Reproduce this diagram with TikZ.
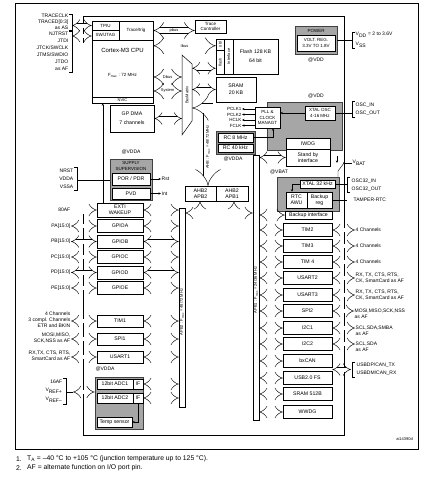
\documentclass[tikz,border=0pt]{standalone}
\usepackage{fontspec}
\setmainfont{Liberation Sans}
\usepackage{tikz}
\usetikzlibrary{arrows.meta, positioning, calc}

\begin{document}
\begin{tikzpicture}[
    x=1pt, y=-1pt,
    box/.style={rectangle, draw=black, fill=white, line width=0.5pt, inner sep=0pt, align=center, font=\fontsize{5.2}{6.2}\selectfont},
    lft/.style={box, minimum width=46pt, minimum height=13pt},
    rgt/.style={box, minimum width=49pt, minimum height=13pt},
    grybox/.style={rectangle, draw=black!75, fill=black!35, line width=0.8pt, inner sep=0pt},
    busbar/.style={rectangle, draw=black, fill=white, line width=0.5pt, inner sep=0pt, minimum width=6pt},
    dbl/.style={double, double distance=4pt, line width=0.45pt, {Implies}-{Implies}},
    dblr/.style={double, double distance=4pt, line width=0.45pt, -{Implies}},
    wide/.style={double, double distance=5.5pt, line width=0.45pt, {Implies}-{Implies}},
    ahb/.style={double, double distance=9pt, line width=0.45pt, {Implies}-{Implies}},
    tip/.style={-{Stealth[length=2.5pt, width=2.2pt]}, line width=0.5pt},
    pin/.style={font=\fontsize{5}{6}\selectfont, inner sep=0.5pt, align=left},
    lbl/.style={font=\fontsize{4}{4.6}\selectfont, inner sep=0pt, align=center},
]
\useasboundingbox (0,0) rectangle (434,480);

% Frame
\draw[line width=0.8pt] (15,3) rectangle (418,449);

% AF pin line round the chip
\draw[line width=0.5pt] (83,43) -- (83,16) -- (344,16) -- (344,435) -- (83,435) -- (83,214);

% Cortex-M3 core
\node[box, minimum width=27pt, minimum height=9pt, font=\fontsize{4.5}{5}\selectfont] (tpiu) at (105.5,25.5) {TPIU};
\node[box, minimum width=27pt, minimum height=10pt, font=\fontsize{4.5}{5}\selectfont] (swj) at (105.5,35) {SW/JTAG};
\node[box, minimum width=34pt, minimum height=19pt, font=\fontsize{4.5}{5}\selectfont] (trig) at (136,30.5) {Trace/trig};
\node[box, minimum width=61pt, minimum height=57pt] (cpu) at (122.5,68.5) {};
\node[box, minimum width=61pt, minimum height=6pt, font=\fontsize{4}{4.5}\selectfont] (nvic) at (122.5,100) {NVIC};
\node[font=\fontsize{6}{7}\selectfont, inner sep=0pt] (cpuname) at (122.5,50) {Cortex-M3 CPU};
\node[font=\fontsize{4.5}{5}\selectfont, inner sep=0pt] (fmax) at (122.5,75) {F\textsubscript{max} : 72 MHz};

% Trace and JTAG pins
\node[pin, anchor=east] (tclk) at (69,16) {TRACECLK};
\node[pin, anchor=east] (tdat) at (69,22) {TRACED[0:3]};
\node[pin, anchor=east] (tas) at (69,28) {as AS};
\draw (69,14) -- (72,14) -- (72,30) -- (69,30);
\coordinate (trbr) at (72,25.5);
\node[pin, anchor=east] (njtrst) at (69,34) {NJTRST};
\node[pin, anchor=east] (jtdi) at (69,41) {JTDI};
\node[pin, anchor=east] (jtck) at (69,48) {JTCK/SWCLK};
\node[pin, anchor=east] (jtms) at (69,55) {JTMS/SWDIO};
\node[pin, anchor=east] (jtdo) at (69,62) {JTDO};
\node[pin, anchor=east] (jtaf) at (69,69) {as AF};
\draw (69,31) -- (72,31) -- (72,72) -- (69,72);
\coordinate (jtbr) at (72,36);
\draw[dbl] (trbr) -- (trbr -| tpiu.west);
\draw[dbl] (jtbr) -- (jtbr -| swj.west);

% Memories and bus matrix
\node[box, minimum width=31pt, minimum height=13pt, font=\fontsize{4.5}{5}\selectfont] (tracectl) at (210.5,26.5) {Trace\\Controller};
\node[box, minimum width=17pt, minimum height=35pt] (flif) at (224.5,56.5) {};
\draw (flif.north) -- (flif.south);
\draw (flif.north west) ++(0,11) -- ++(8.5,0);
\node[lbl, rotate=90] (obl) at (220.25,44.5) {obl};
\node[lbl, rotate=90] (flshtxt) at (220.25,62) {flash};
\node[lbl, rotate=90] (iftxt) at (228.75,56.5) {Interface};
\node[box, minimum width=45pt, minimum height=35pt] (flash) at (255.5,56.5) {Flash 128 KB\\[3pt]64 bit};
\node[box, minimum width=40pt, minimum height=25pt] (sram) at (236,89.5) {SRAM\\[1pt]20 KB};
\node[box, minimum width=44pt, minimum height=27pt] (dma) at (132,118.5) {GP DMA\\[3pt]7 channels};
\coordinate (bm1) at (182,55);
\coordinate (bm2) at (192,64);
\coordinate (bm3) at (192,121);
\coordinate (bm4) at (182,135);
\draw[fill=white, line width=0.5pt] (bm1) -- (bm2) -- (bm3) -- (bm4) -- cycle;
\node[lbl, rotate=90] (bmtxt) at (187,95) {BusMatrix};

\draw[wide] (trig.east) -- (trig.east -| tracectl.west) node[midway, lbl] {pbus};
\draw[wide] ($(cpu.north east)+(0,6)$) coordinate (ib) -- (ib -| flif.west) node[midway, lbl] {Ibus};
\draw[wide] ($(cpu.east)+(0,8.5)$) coordinate (db) -- (db -| bm1) node[midway, lbl] {Dbus};
\draw[wide] ($(cpu.east)+(0,22.5)$) coordinate (sb) -- (sb -| bm1) node[midway, lbl] {System};
\draw[dbl] (dma.east) -- (dma.east -| bm1);
\draw[dbl] ($(flif.south west)+(0,-6)$) coordinate (fb) -- (fb -| bm2);
\draw[dbl] (sram.west) -- (sram.west -| bm2);

% AHB and bridges
\node[box, minimum width=31pt, minimum height=15pt] (apb2br) at (200.5,193.5) {AHB2\\APB2};
\node[box, minimum width=32pt, minimum height=15pt] (apb1br) at (232,193.5) {AHB2\\APB1};
\coordinate (ahbtop) at (208,108);
\draw[ahb] (ahbtop -| bm2) -- (ahbtop) -- (ahbtop |- apb2br.north);
\node[lbl, rotate=90] (ahbtxt) at (208,147) {AHB : F\textsubscript{max} = 48/72 MHz};
\node[busbar, minimum height=199pt] (apbii) at (182,307.5) {};
\node[lbl, rotate=90] (apbiitxt) at (182,312) {APB2 : F\textsubscript{max} = 48/72 MHz};
\node[busbar, minimum height=265pt] (apbi) at (256,287.5) {};
\node[lbl, rotate=90] (apbitxt) at (256,290) {APB1 : F\textsubscript{max} = 24/36 MHz};
\coordinate (b2) at (200,213);
\draw[dbl] (b2 |- apb2br.south) -- (b2) -- (b2 -| apbii.east);
\coordinate (b1) at (234,213);
\draw[dbl] (b1 |- apb1br.south) -- (b1) -- (b1 -| apbi.west);

% Power
\node[grybox, minimum width=42pt, minimum height=28pt] (power) at (316,40) {};
\node[lbl, font=\fontsize{4.5}{5}\selectfont] (powtxt) at (316,30.5) {POWER};
\node[box, minimum width=38pt, minimum height=16pt, font=\fontsize{4.5}{5.5}\selectfont] (vreg) at (316,43) {VOLT. REG.\\3.3V TO 1.8V};
\node[pin] (vddp) at (316,60) {@VDD};
\coordinate (vddbr) at (352,40);
\draw (power.east) -- (vddbr);
\draw (355,32) -- (352,32) -- (352,48) -- (355,48);
\node[pin, anchor=west] (vdd) at (355,35) {V\textsubscript{DD} = 2 to 3.6V};
\node[pin, anchor=west] (vss) at (355,45) {V\textsubscript{SS}};

% Clocks
\node[pin] (vddc) at (316,96) {@VDD};
\node[grybox, minimum width=75pt, minimum height=48pt] (clk) at (304.5,126) {};
\node[box, minimum width=25pt, minimum height=21pt, font=\fontsize{4.5}{5.2}\selectfont] (pll) at (267.5,117.5) {PLL \&\\CLOCK\\MANAGT};
\node[box, minimum width=30pt, minimum height=14pt, font=\fontsize{4.5}{5.5}\selectfont] (xtal) at (320,113) {XTAL OSC\\4-16 MHz};
\node[box, minimum width=44pt, minimum height=11pt] (iwdg) at (308,144) {IWDG};
\node[box, minimum width=44pt, minimum height=17pt] (stdby) at (308,157.5) {Stand by\\interface};
\foreach \clkname [count=\i] in {PCLK1,PCLK2,HCLK,FCLK} {
  \node[pin, anchor=east, font=\fontsize{4.5}{5}\selectfont] (clk\i) at (242,{103.5+5.5*\i}) {\clkname};
  \draw[tip] (clk\i.east -| pll.west) -- (clk\i.east);
}
\draw[tip] (xtal.west) -- (xtal.west -| pll.east);
\coordinate (oscbr) at (352,113);
\draw (xtal.east) -- (oscbr);
\draw (355,101) -- (352,101) -- (352,117) -- (355,117);
\node[pin, anchor=west] (oscin) at (355,105) {OSC\_IN};
\node[pin, anchor=west] (oscout) at (355,113) {OSC\_OUT};
\node[rectangle, draw=black!75, fill=black!45, line width=0.8pt, minimum width=39pt, minimum height=23pt] (rcbox) at (235.5,142.5) {};
\node[box, minimum width=35pt, minimum height=9pt] (rc8) at (235.5,137.5) {RC 8 MHz};
\node[box, minimum width=35pt, minimum height=8pt] (rc40) at (235.5,148) {RC 40 kHz};
\node[pin] (vdda1) at (233,159) {@VDDA};
\draw[tip] (rc8.east) -| ($(pll.south)+(5.5,0)$);
\draw[dbl] (stdby.west -| apbi.east) -- (stdby.west);

% Backup domain
\node[pin] (vbatl) at (279,172) {@VBAT};
\node[pin, anchor=west] (vbat) at (352,163) {V\textsubscript{BAT}};
\fill (344,163) circle (0.9pt);
\draw (344,163) -- (vbat.west);
\draw (344,163) -- (338,171) -- (338,177);
\draw[tip] (337,156) -- (337,163);
\node[grybox, minimum width=62pt, minimum height=34pt] (bkp) at (308,194) {};
\node[box, minimum width=35pt, minimum height=8pt] (xtal32) at (317.5,184) {XTAL 32 kHz};
\node[box, minimum width=21pt, minimum height=16pt] (rtc) at (296.5,200) {RTC\\AWU};
\node[box, minimum width=25pt, minimum height=16pt] (bkpreg) at (319.5,200) {Backup\\reg};
\node[box, minimum width=47pt, minimum height=8pt] (bkpif) at (308.5,215) {Backup interface};
\draw[tip] (xtal32.west) -| ($(rtc.north)+(-4.5,0)$);
\coordinate (osc32br) at (347,184);
\draw (xtal32.east) -- (osc32br);
\draw (350,177) -- (347,177) -- (347,192) -- (350,192);
\node[pin, anchor=west] (osc32in) at (351,181) {OSC32\_IN};
\node[pin, anchor=west] (osc32out) at (351,189) {OSC32\_OUT};
\node[pin, anchor=west] (tamper) at (353,200) {TAMPER-RTC};
\coordinate (tampend) at (347,200);
\draw (bkpreg.east) -- (tampend);
\draw[dbl] (bkpif.west -| apbi.east) -- (bkpif.west);

% Supply supervision
\node[pin] (vdda2) at (131,152) {@VDDA};
\node[grybox, minimum width=42pt, minimum height=41pt] (supply) at (131,179.5) {};
\node[lbl, font=\fontsize{4.5}{5.5}\selectfont] (suptxt) at (131,166) {SUPPLY\\SUPERVISION};
\node[box, minimum width=38pt, minimum height=12pt] (por) at (131,179) {POR / PDR};
\node[box, minimum width=38pt, minimum height=11pt] (pvd) at (131,193.5) {PVD};
\node[pin, anchor=west] (rst) at (161,179) {Rst};
\node[pin, anchor=west] (int) at (161,193.5) {Int};
\draw[tip] (por.east) -- (rst.west);
\draw[tip] (pvd.east) -- (int.west);
\node[pin, anchor=east] (nrst) at (74,171) {NRST};
\node[pin, anchor=east] (vddapin) at (74,179) {VDDA};
\node[pin, anchor=east] (vssapin) at (74,186.5) {VSSA};
\draw (74,167) -- (77,167) -- (77,190) -- (74,190);
\coordinate (supbr) at (77,180);
\draw (supbr) -- (supbr -| supply.west);

% APB2 peripherals
\node[lft, minimum height=14pt] (exti) at (120,210) {EXTI\\WAKEUP};
\node[pin, anchor=east] (afin) at (71,210) {80AF};
\draw[dblr] (afin.east) -- (exti.west);
\draw[dbl] (exti.east) -- (exti.east -| apbii.west);
\coordinate (ex) at ($(exti.north west)+(6,0)$);
\draw[tip] (ex) -- (ex |- nvic.south);
\foreach \port/\yy in {A/226, B/241.5, C/257, D/272.5, E/288} {
  \node[lft] (gpio\port) at (120,\yy) {GPIO\port};
  \node[pin, anchor=east] (p\port) at (71,\yy) {P\port[15:0]};
  \draw[dbl] (p\port.east) -- (gpio\port.west);
  \draw[dbl] (gpio\port.east) -- (gpio\port.east -| apbii.west);
}
\node[lft, minimum height=12pt] (tim1) at (120,321) {TIM1};
\node[lft, minimum height=12pt] (spi1) at (120,339) {SPI1};
\node[lft, minimum height=12pt] (usart1) at (120,357) {USART1};
\node[pin, anchor=east, align=right] (tim1p) at (71,320) {4 Channels\\3 compl. Channels\\ETR and BKIN};
\node[pin, anchor=east, align=right] (spi1p) at (71,338) {MOSI,MISO,\\SCK,NSS as AF};
\node[pin, anchor=east, align=right] (usart1p) at (71,356) {RX,TX, CTS, RTS,\\SmartCard as AF};
\foreach \per in {tim1, spi1, usart1} {
  \draw[dbl] (\per p.east |- \per.west) -- (\per.west);
  \draw[dbl] (\per.east) -- (\per.east -| apbii.west);
}

% ADC
\node[pin] (vdda3) at (105,369) {@VDDA};
\node[grybox, minimum width=48pt, minimum height=52pt] (adc) at (119,403) {};
\node[box, minimum width=36pt, minimum height=10pt] (adc1) at (115,384) {12bit ADC1};
\node[box, minimum width=10pt, minimum height=10pt] (if1) at (138,384) {IF};
\node[box, minimum width=36pt, minimum height=10pt] (adc2) at (115,398) {12bit ADC2};
\node[box, minimum width=10pt, minimum height=10pt] (if2) at (138,398) {IF};
\node[box, minimum width=35pt, minimum height=10pt] (temp) at (114.5,422) {Temp sensor};
\draw[tip] (if2.south) |- (temp.east);
\draw[dbl] (if1.east) -- (if1.east -| apbii.west);
\draw[dbl] (if2.east) -- (if2.east -| apbii.west);
\node[pin, anchor=east] (af16) at (63,382) {16AF};
\node[pin, anchor=east] (vrefp) at (63,391) {V\textsubscript{REF+}};
\node[pin, anchor=east] (vrefm) at (63,400) {V\textsubscript{REF--}};
\draw (63,378) -- (66,378) -- (66,404) -- (63,404);
\coordinate (adcbr) at (66,392);
\coordinate (adcin) at (73,392);
\draw (adcbr) -- (adcin);
\draw[dbl] (adcin) -- (adcin -| adc.west);

% APB1 peripherals
\foreach \nm/\txt/\yy in {tim2/TIM2/230, tim3/TIM3/246, tim4/TIM 4/262, usart2/USART2/278, usart3/USART3/295, spi2/SPI2/311, i2ca/I2C1/328, i2cb/I2C2/344, bxcan/bxCAN/361, usb/USB2.0 FS/378, sramb/SRAM 512B/394, wwdg/WWDG/412} {
  \node[rgt] (\nm) at (307.5,\yy) {\txt};
  \draw[dbl] (\nm.west -| apbi.east) -- (\nm.west);
}
\node[pin, anchor=west] (tim2p) at (355,230) {4 Channels};
\node[pin, anchor=west] (tim3p) at (355,246) {4 Channels};
\node[pin, anchor=west] (tim4p) at (355,262) {4 Channels};
\node[pin, anchor=west] (usart2p) at (355,278) {RX, TX, CTS, RTS,\\CK, SmartCard as AF};
\node[pin, anchor=west] (usart3p) at (355,295) {RX, TX, CTS, RTS,\\CK, SmartCard as AF};
\node[pin, anchor=north west] (spi2p) at (354,308) {MOSI,MISO,SCK,NSS\\as AF};
\node[pin, anchor=north west] (i2cap) at (355,325) {SCL,SDA,SMBA\\as AF};
\node[pin, anchor=north west] (i2cbp) at (355,341) {SCL,SDA\\as AF};
\foreach \per in {tim2, tim3, tim4, usart2, usart3, spi2, i2ca, i2cb} {
  \draw[dbl] (\per.east) -- (\per.east -| \per p.west);
}
\coordinate (canbr) at (351,369.5);
\draw[dbl] ($(bxcan.south east)!0.5!(usb.north east)$) -- (canbr);
\draw (355,362) -- (352,362) -- (352,377) -- (355,377);
\node[pin, anchor=west] (cantx) at (356,365) {USBDP/CAN\_TX};
\node[pin, anchor=west] (canrx) at (356,373) {USBDM/CAN\_RX};

% Notes
\node[lbl, anchor=east] (ref) at (413,439) {ai14390d};
\node[font=\fontsize{6.8}{8}\selectfont, anchor=west, inner sep=0pt] (fn1n) at (16,459) {1.};
\node[font=\fontsize{6.8}{8}\selectfont, anchor=west, inner sep=0pt] (fn1) at (27,459) {T\textsubscript{A} = --40 °C to +105 °C (junction temperature up to 125 °C).};
\node[font=\fontsize{6.8}{8}\selectfont, anchor=west, inner sep=0pt] (fn2n) at (16,468) {2.};
\node[font=\fontsize{6.8}{8}\selectfont, anchor=west, inner sep=0pt] (fn2) at (27,468) {AF = alternate function on I/O port pin.};

\end{tikzpicture}
\end{document}
